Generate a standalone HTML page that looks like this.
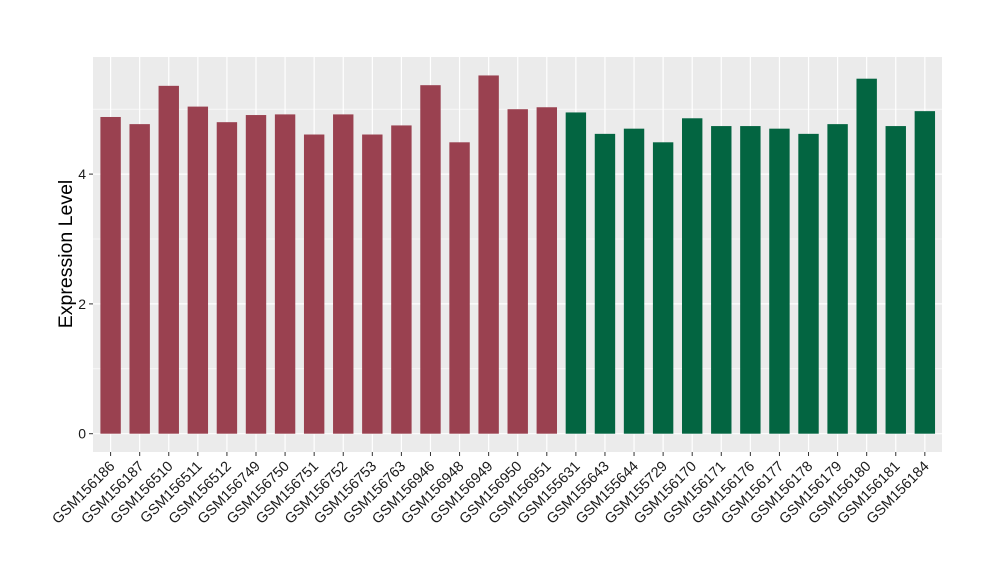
<!DOCTYPE html>
<html><head><meta charset="utf-8"><style>body{margin:0;background:#fff}svg{display:block}</style></head><body>
<svg width="1000" height="580" xmlns="http://www.w3.org/2000/svg" font-family="Liberation Sans, Arial, sans-serif">
<rect x="93" y="57" width="849" height="395" fill="#ebebeb"/>
<g id="g"></g>
<script>
var s='http://www.w3.org/2000/svg',g=document.getElementById('g');
function el(t,a,txt){var e=document.createElementNS(s,t);for(var k in a)e.setAttribute(k,a[k]);if(txt)e.textContent=txt;g.appendChild(e);return e;}
var y0=433.7,u=64.9,x0=110.6,dx=29.08,bw=20.4;
function Y(v){return y0-v*u;}
[1,3,5].forEach(function(v){el('line',{x1:93,x2:942,y1:Y(v),y2:Y(v),stroke:'#fff','stroke-width':0.6});});
[0,2,4].forEach(function(v){el('line',{x1:93,x2:942,y1:Y(v),y2:Y(v),stroke:'#fff','stroke-width':1.2});
el('line',{x1:89,x2:93,y1:Y(v),y2:Y(v),stroke:'#333','stroke-width':1});
el('text',{x:86,y:Y(v)+5,'text-anchor':'end','font-size':14,fill:'#1a1a1a'},String(v));});
var names=['GSM156186','GSM156187','GSM156510','GSM156511','GSM156512','GSM156749','GSM156750','GSM156751','GSM156752','GSM156753','GSM156763','GSM156946','GSM156948','GSM156949','GSM156950','GSM156951','GSM155631','GSM155643','GSM155644','GSM155729','GSM156170','GSM156171','GSM156176','GSM156177','GSM156178','GSM156179','GSM156180','GSM156181','GSM156184'];
var vals=[4.88,4.77,5.36,5.04,4.80,4.91,4.92,4.61,4.92,4.61,4.75,5.37,4.49,5.52,5.00,5.03,4.95,4.62,4.70,4.49,4.86,4.74,4.74,4.70,4.62,4.77,5.47,4.74,4.97];
names.forEach(function(n,i){var cx=x0+i*dx;
el('line',{x1:cx,x2:cx,y1:57,y2:452,stroke:'#fff','stroke-width':1.2});});
names.forEach(function(n,i){var cx=x0+i*dx;
el('rect',{x:cx-bw/2,y:Y(vals[i]),width:bw,height:vals[i]*u,fill:i<16?'#9a4150':'#036541'});
el('line',{x1:cx,x2:cx,y1:452,y2:456,stroke:'#333','stroke-width':1});
el('text',{x:cx+5,y:467,'text-anchor':'end','font-size':14.5,fill:'#1a1a1a',transform:'rotate(-45 '+(cx+5)+' 467)'},n);});
el('text',{x:72,y:254,'text-anchor':'middle','font-size':19.5,fill:'#000',transform:'rotate(-90 72 254)'},'Expression Level');
</script>
</svg>
</body></html>
